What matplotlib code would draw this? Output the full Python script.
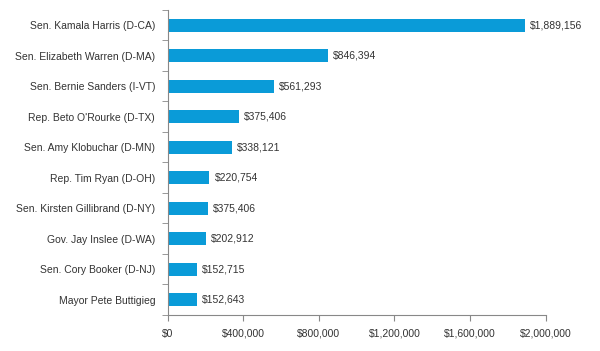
import matplotlib.pyplot as plt
import numpy as np
from matplotlib.ticker import FuncFormatter, FixedLocator

candidates = ['Sen. Kamala Harris (D-CA)', 'Sen. Elizabeth Warren (D-MA)',
              'Sen. Bernie Sanders (I-VT)', "Rep. Beto O'Rourke (D-TX)",
              'Sen. Amy Klobuchar (D-MN)', 'Rep. Tim Ryan (D-OH)',
              'Sen. Kirsten Gillibrand (D-NY)', 'Gov. Jay Inslee (D-WA)',
              'Sen. Cory Booker (D-NJ)', 'Mayor Pete Buttigieg']
# bar lengths as drawn in the picture
amounts = [1889156, 846394, 561293, 375406, 338121, 220754, 212000, 202912, 152715, 152643]
# value labels as printed in the picture
amount_labels = ['$1,889,156', '$846,394', '$561,293', '$375,406', '$338,121',
                 '$220,754', '$375,406', '$202,912', '$152,715', '$152,643']
x_ticks = [0, 400000, 800000, 1200000, 1600000, 2000000]

plt.rcParams['font.family'] = ['Liberation Sans', 'DejaVu Sans']

fig = plt.figure(figsize=(6, 3.51), dpi=100)
ax = fig.add_axes([0.2795, 0.1026, 0.63, 0.869])

y = np.arange(len(candidates))
ax.barh(y, amounts, height=0.42, color='#0A9BD8')

for yi, val, lab in zip(y, amounts, amount_labels):
    ax.text(val + 28000, yi, lab, va='center', ha='left', fontsize=7.5, color='#333333')

ax.set_xlim(0, 2000000)
ax.set_ylim(len(candidates) - 0.5, -0.5)
ax.set_xticks(x_ticks)
ax.xaxis.set_major_formatter(FuncFormatter(lambda v, p: '${:,.0f}'.format(v)))

ax.set_yticks(y)
ax.set_yticklabels(candidates)
ax.yaxis.set_minor_locator(FixedLocator(np.arange(-0.5, len(candidates), 1)))
ax.tick_params(axis='y', which='major', length=0, pad=9, labelsize=7.5, labelcolor='#333333')
ax.tick_params(axis='y', which='minor', length=4, direction='out', color='#888888')
ax.tick_params(axis='x', length=4, direction='out', color='#888888', pad=6,
               labelsize=7.5, labelcolor='#333333')

for s in ['top', 'right']:
    ax.spines[s].set_visible(False)
for s in ['left', 'bottom']:
    ax.spines[s].set_color('#888888')
    ax.spines[s].set_linewidth(0.8)

fig.savefig('out.png', dpi=100)
